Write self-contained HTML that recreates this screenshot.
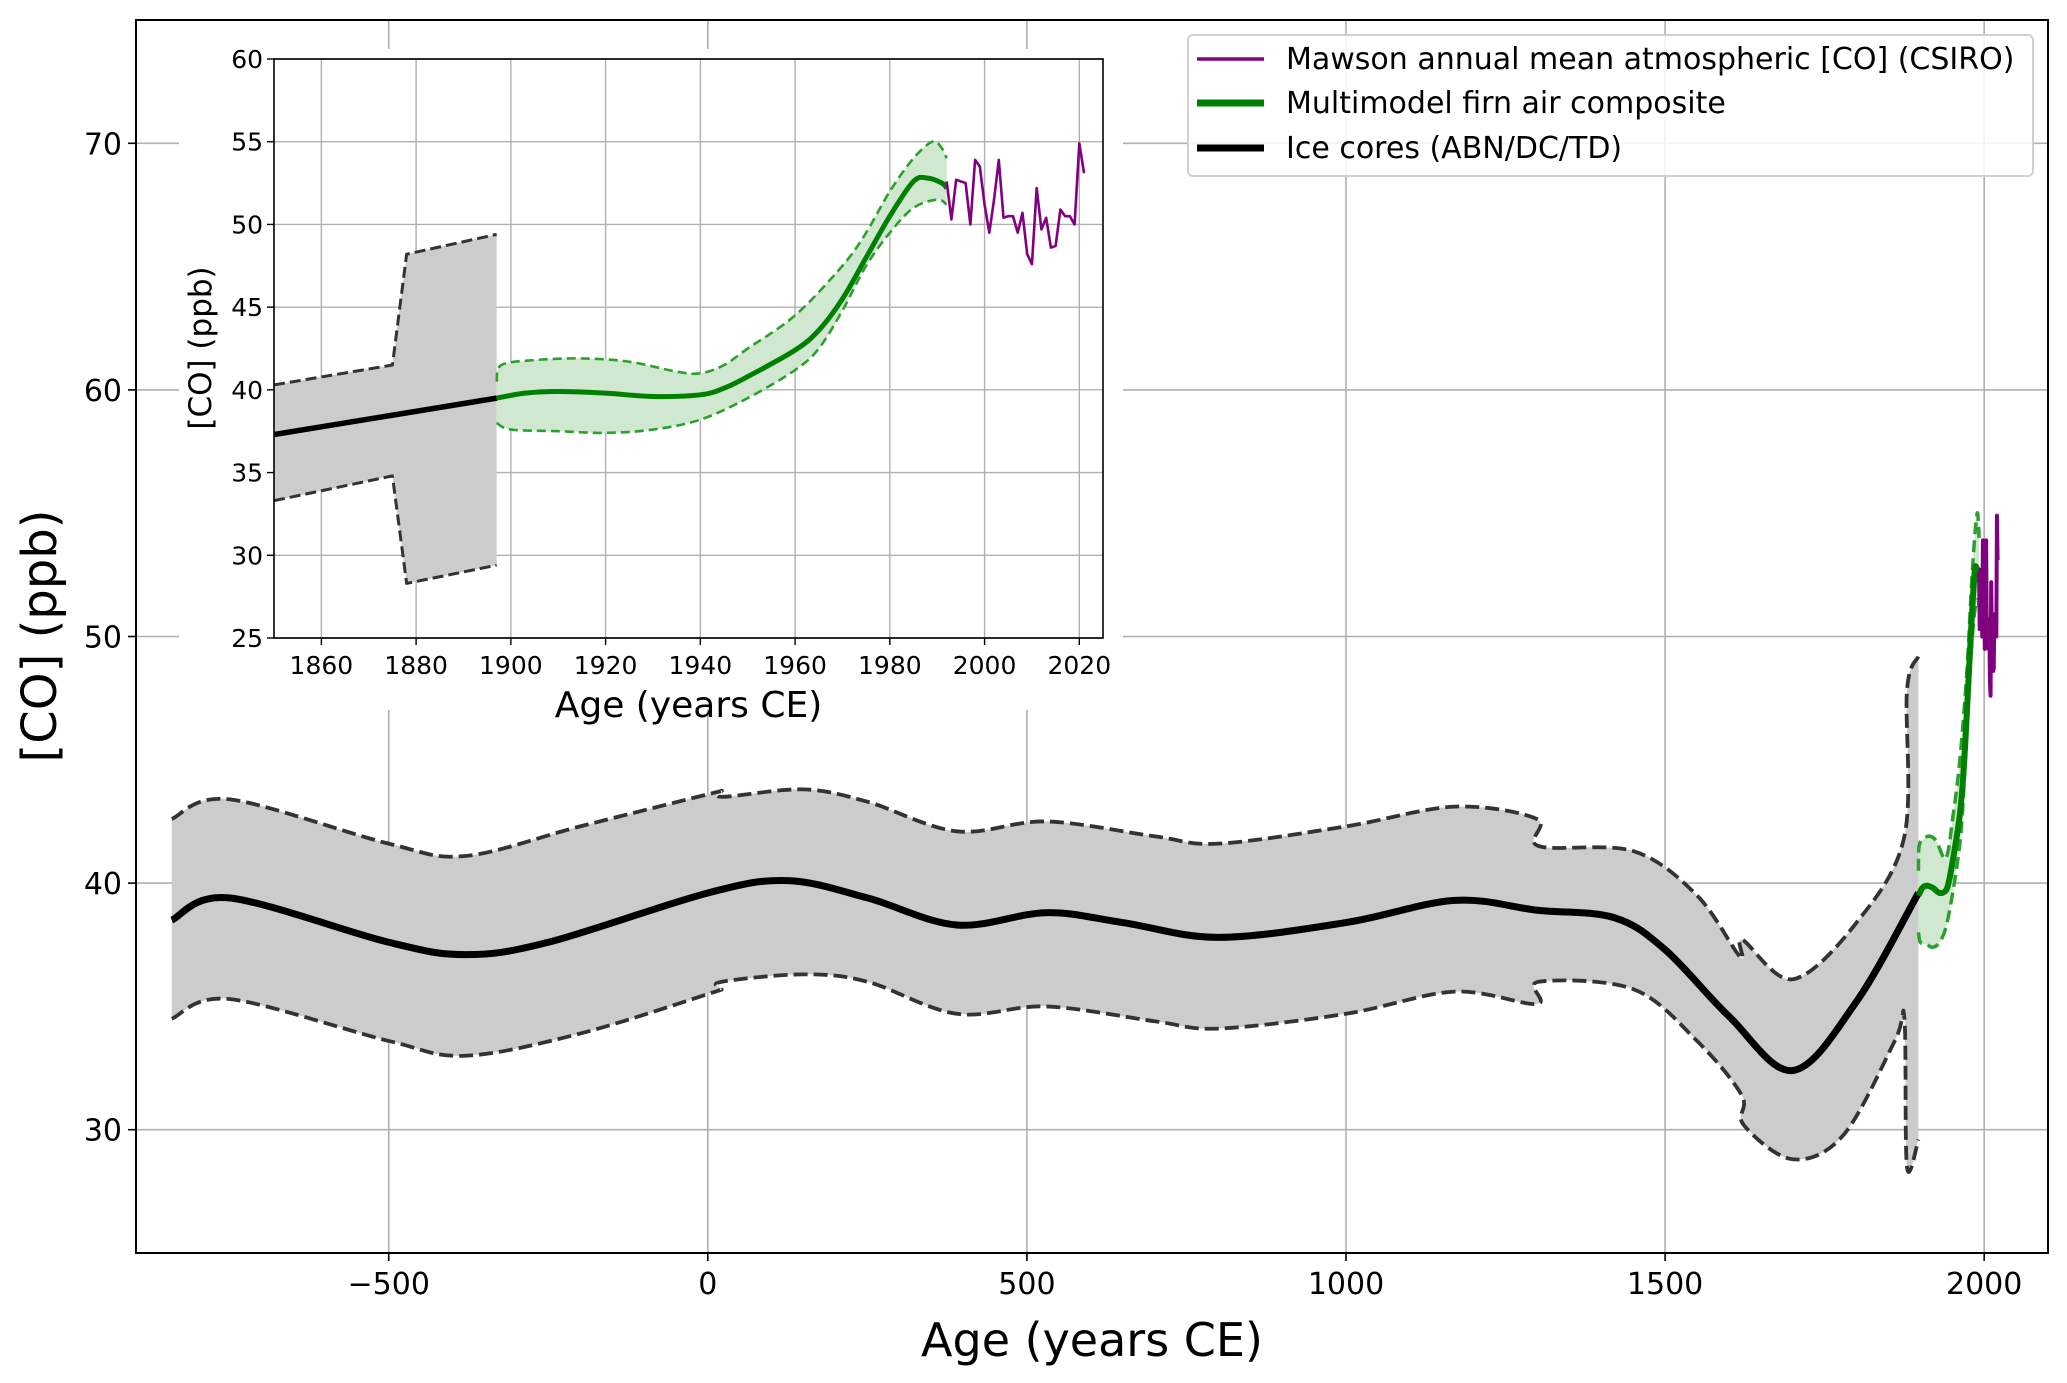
<!DOCTYPE html>
<html><head><meta charset="utf-8">
<style>
html,body{margin:0;padding:0;background:#fff;}
svg{display:block;font-family:"DejaVu Sans","Liberation Sans",sans-serif;}
</style></head>
<body>
<svg id="chart" width="2067" height="1383" viewBox="0 0 2067 1383" xmlns="http://www.w3.org/2000/svg">
<g id="main"></g>
<g id="inset"></g>
<g id="legend"></g>
</svg>
<script>
// ---- data ----
const iceX = [-840,-750,-500,-380,-250,0,125,250,390,530,650,800,1000,1170,1300,1420,1500,1600,1700,1800,1897];
const iceMean = [38.5,39.4,37.6,37.1,37.6,39.6,40.1,39.4,38.3,38.8,38.4,37.8,38.4,39.3,38.9,38.6,37.3,34.6,32.4,35.2,39.6];
const iceUpX = [-840,-750,-500,-380,-200,0,20,25,150,250,390,530,700,800,1000,1170,1299,1302,1450,1550,1618,1621,1700,1800,1875,1879,1897];
const iceUp = [42.6,43.4,41.6,41.1,42.3,43.6,43.7,43.5,43.8,43.3,42.1,42.5,41.9,41.6,42.3,43.1,42.6,41.5,41.3,39.5,37.0,37.7,36.1,38.4,41.9,47.8,49.2];
const iceLoX = [-840,-750,-500,-380,-200,0,19,22,150,250,390,530,700,800,1000,1170,1299,1302,1450,1550,1620,1623,1700,1780,1860,1875,1879,1897];
const iceLo = [34.5,35.3,33.6,33.0,33.9,35.5,35.7,36.0,36.3,36.0,34.7,35.0,34.4,34.1,34.7,35.6,35.1,36.0,35.7,33.6,31.4,30.2,28.8,29.8,33.6,34.5,28.5,29.6];
const insetIceX = [1850,1897];
const insetIceMean = [37.3,39.5];
const insetIceUpX = [1850,1875,1878,1897];
const insetIceUp = [40.3,41.5,48.2,49.4];
const insetIceLoX = [1850,1875,1878,1897];
const insetIceLo = [33.3,34.8,28.3,29.4];
const firnX = [1897,1903,1910,1920,1930,1940,1945,1950,1960,1965,1970,1975,1980,1985,1988,1991,1992];
const firnMean = [39.5,39.8,39.9,39.8,39.6,39.7,40.1,40.8,42.4,43.6,45.5,48.0,50.5,52.6,52.8,52.5,52.2];
const firnUpX = [1897,1898,1905,1915,1925,1935,1940,1945,1950,1960,1970,1975,1980,1985,1989,1991,1992];
const firnUp = [40.5,41.5,41.8,41.9,41.7,41.1,41.0,41.5,42.5,44.5,47.5,49.5,52.0,54.0,55.0,54.6,54.0];
const firnLoX = [1897,1900,1910,1920,1930,1940,1950,1960,1965,1970,1975,1980,1985,1990,1992];
const firnLo = [38.0,37.6,37.5,37.4,37.6,38.2,39.5,41.2,42.5,44.8,47.5,49.5,51.0,51.5,51.2];
const csiroYears = [1992,1993,1994,1995,1996,1997,1998,1999,2000,2001,2002,2003,2004,2005,2006,2007,2008,2009,2010,2011,2012,2013,2014,2015,2016,2017,2018,2019,2020,2021];
const csiroCO = [52.6,50.3,52.7,52.6,52.5,50.0,53.9,53.5,51.2,49.5,51.5,53.9,50.4,50.5,50.5,49.5,50.7,48.2,47.6,52.2,49.7,50.4,48.6,48.7,50.9,50.5,50.5,50.0,54.9,53.1];
const mainXTicks = [-500,0,500,1000,1500,2000];
const mainXTickLabels = ["\u2212500","0","500","1000","1500","2000"];
const mainYTicks = [30,40,50,60,70];
const insetXTicks = [1860,1880,1900,1920,1940,1960,1980,2000,2020];
const insetYTicks = [25,30,35,40,45,50,55,60];

// ---- helpers ----
const NS="http://www.w3.org/2000/svg";
function mk(parent,tag,attrs,text){const e=document.createElementNS(NS,tag);for(const k in attrs)e.setAttribute(k,attrs[k]);if(text!==undefined)e.textContent=text;parent.appendChild(e);return e;}
function lin(d0,d1,r0,r1){return v=>r0+(v-d0)*(r1-r0)/(d1-d0);}
function linearPath(p){return "M"+p.map(q=>q[0].toFixed(2)+","+q[1].toFixed(2)).join("L");}
function smooth(pts){
  if(pts.length<3) return linearPath(pts);
  let d="M"+pts[0][0].toFixed(2)+","+pts[0][1].toFixed(2);
  for(let i=0;i<pts.length-1;i++){
    const p0=pts[Math.max(0,i-1)],p1=pts[i],p2=pts[i+1],p3=pts[Math.min(pts.length-1,i+2)];
    const t=1/6;
    const c1=[p1[0]+(p2[0]-p0[0])*t,p1[1]+(p2[1]-p0[1])*t];
    const c2=[p2[0]-(p3[0]-p1[0])*t,p2[1]-(p3[1]-p1[1])*t];
    d+="C"+c1.map(v=>v.toFixed(2)).join(",")+" "+c2.map(v=>v.toFixed(2)).join(",")+" "+p2[0].toFixed(2)+","+p2[1].toFixed(2);
  }
  return d;
}
function pts(xs,ys,sx,sy){return xs.map((x,i)=>[sx(x),sy(ys[i])]);}
function band(g,name,upX,up,loX,lo,sx,sy,fill,isSmooth){
  const f=isSmooth?smooth:linearPath;
  const u=pts(upX,up,sx,sy), l=pts(loX,lo,sx,sy).reverse();
  const d=f(u)+"L"+f(l).slice(1)+"Z";
  const e=mk(g,"path",{d:d,fill:fill,stroke:"none"});
  
  
}
function line(g,name,xs,ys,sx,sy,attrs,isSmooth){
  const p=pts(xs,ys,sx,sy);
  const d=isSmooth?smooth(p):linearPath(p);
  const a=Object.assign({d:d,fill:"none","stroke-linejoin":"round"},attrs);
  const e=mk(g,"path",a);
  
  
}

// ---- main plot ----
const M={l:136,r:2048,t:20,b:1253};
const mx=lin(-896,2100,M.l,M.r), my=lin(25,75,M.b,M.t);
const gm=document.getElementById("main");
mk(gm,"defs",{}).innerHTML='<clipPath id="cm"><rect x="'+M.l+'" y="'+M.t+'" width="'+(M.r-M.l)+'" height="'+(M.b-M.t)+'"/></clipPath><clipPath id="ci"><rect x="274" y="59" width="829" height="579"/></clipPath>';
mainXTicks.forEach((v,i)=>{
  const x=mx(v);
  const gl=mk(gm,"line",{x1:x,x2:x,y1:M.t,y2:M.b,stroke:"#b0b0b0","stroke-width":1.6});
  
  
  mk(gm,"line",{x1:x,x2:x,y1:M.b,y2:M.b+8,stroke:"#000","stroke-width":1.6});
  const t=mk(gm,"text",{x:x,y:M.b+41,"font-size":30,"text-anchor":"middle",fill:"#000"},mainXTickLabels[i]);
  
  
});
mainYTicks.forEach(v=>{
  const y=my(v);
  const gl=mk(gm,"line",{x1:M.l,x2:M.r,y1:y,y2:y,stroke:"#b0b0b0","stroke-width":1.6});
  
  
  mk(gm,"line",{x1:M.l-8,x2:M.l,y1:y,y2:y,stroke:"#000","stroke-width":1.6});
  const t=mk(gm,"text",{x:M.l-14,y:y+11,"font-size":30,"text-anchor":"end",fill:"#000"},String(v));
  
  
});
const gmc=mk(gm,"g",{"clip-path":"url(#cm)"});
band(gmc,"ice-core-uncertainty-band",iceUpX,iceUp,iceLoX,iceLo,mx,my,"#cccccc",true);
line(gmc,"ice-core-upper-bound",iceUpX,iceUp,mx,my,{stroke:"#333","stroke-width":3.8,"stroke-dasharray":"14,6"},true);
line(gmc,"ice-core-lower-bound",iceLoX,iceLo,mx,my,{stroke:"#333","stroke-width":3.8,"stroke-dasharray":"14,6"},true);
band(gmc,"firn-uncertainty-band",firnUpX,firnUp,firnLoX,firnLo,mx,my,"#cfe8cf",true);
line(gmc,"firn-upper-bound",firnUpX,firnUp,mx,my,{stroke:"#2ca02c","stroke-width":3.5,"stroke-dasharray":"12,6"},true);
line(gmc,"firn-lower-bound",firnLoX,firnLo,mx,my,{stroke:"#2ca02c","stroke-width":3.5,"stroke-dasharray":"12,6"},true);
line(gmc,"ice-core-mean-line",iceX,iceMean,mx,my,{stroke:"#000","stroke-width":7},true);
line(gmc,"firn-composite-line",firnX,firnMean,mx,my,{stroke:"#008000","stroke-width":6},true);
line(gmc,"csiro-mawson-line",csiroYears,csiroCO,mx,my,{stroke:"#800080","stroke-width":4},false);
const mf=mk(gm,"rect",{x:M.l,y:M.t,width:M.r-M.l,height:M.b-M.t,fill:"none",stroke:"#000","stroke-width":2});

const xl=mk(gm,"text",{x:(M.l+M.r)/2,y:1356,"font-size":46,"text-anchor":"middle"},"Age (years CE)");

const yl=mk(gm,"text",{x:0,y:0,"font-size":48,"text-anchor":"middle",transform:"translate(56,636) rotate(-90)"},"[CO] (ppb)");


// ---- inset ----
const I={l:274,r:1103,t:59,b:638};
const ix=lin(1850,2025,I.l,I.r), iy=lin(25,60,I.b,I.t);
const gi=document.getElementById("inset");
mk(gi,"rect",{x:I.l-95,y:I.t-10,width:I.r-I.l+115,height:I.b-I.t+82,fill:"#fff"});
insetXTicks.forEach(v=>{
  const x=ix(v);
  mk(gi,"line",{x1:x,x2:x,y1:I.t,y2:I.b,stroke:"#b0b0b0","stroke-width":1.4});
  mk(gi,"line",{x1:x,x2:x,y1:I.b,y2:I.b+7,stroke:"#000","stroke-width":1.4});
  const t=mk(gi,"text",{x:x,y:I.b+36,"font-size":25,"text-anchor":"middle"},String(v));
  
});
insetYTicks.forEach(v=>{
  const y=iy(v);
  mk(gi,"line",{x1:I.l,x2:I.r,y1:y,y2:y,stroke:"#b0b0b0","stroke-width":1.4});
  mk(gi,"line",{x1:I.l-7,x2:I.l,y1:y,y2:y,stroke:"#000","stroke-width":1.4});
  const t=mk(gi,"text",{x:I.l-11,y:y+9,"font-size":25,"text-anchor":"end"},String(v));
  
});
const gic=mk(gi,"g",{"clip-path":"url(#ci)"});
band(gic,"inset-ice-band",insetIceUpX,insetIceUp,insetIceLoX,insetIceLo,ix,iy,"#cccccc",false);
line(gic,"inset-ice-upper",insetIceUpX,insetIceUp,ix,iy,{stroke:"#333","stroke-width":3,"stroke-dasharray":"11,5"},false);
line(gic,"inset-ice-lower",insetIceLoX,insetIceLo,ix,iy,{stroke:"#333","stroke-width":3,"stroke-dasharray":"11,5"},false);
band(gic,"inset-firn-band",firnUpX,firnUp,firnLoX,firnLo,ix,iy,"#cfe8cf",true);
line(gic,"inset-firn-upper",firnUpX,firnUp,ix,iy,{stroke:"#2ca02c","stroke-width":2.6,"stroke-dasharray":"9,5"},true);
line(gic,"inset-firn-lower",firnLoX,firnLo,ix,iy,{stroke:"#2ca02c","stroke-width":2.6,"stroke-dasharray":"9,5"},true);
line(gic,"inset-ice-mean",insetIceX,insetIceMean,ix,iy,{stroke:"#000","stroke-width":5.5},false);
line(gic,"inset-firn-mean",firnX,firnMean,ix,iy,{stroke:"#008000","stroke-width":5},true);
line(gic,"inset-csiro-line",csiroYears,csiroCO,ix,iy,{stroke:"#800080","stroke-width":2.6},false);
const ifr=mk(gi,"rect",{x:I.l,y:I.t,width:I.r-I.l,height:I.b-I.t,fill:"none",stroke:"#000","stroke-width":1.6});

const ixl=mk(gi,"text",{x:(I.l+I.r)/2,y:717,"font-size":36,"text-anchor":"middle"},"Age (years CE)");

const iyl=mk(gi,"text",{x:0,y:0,"font-size":31,"text-anchor":"middle",transform:"translate(211,348) rotate(-90)"},"[CO] (ppb)");


// ---- legend ----
const gl=document.getElementById("legend");
mk(gl,"rect",{x:1188,y:35,width:845,height:141,rx:5,fill:"#fff","fill-opacity":0.85,stroke:"#d0d0d0","stroke-width":2});
const legItems=[["Mawson annual mean atmospheric [CO] (CSIRO)","#800080",3.5,59],["Multimodel firn air composite","#008000",7,103],["Ice cores (ABN/DC/TD)","#000",7,148]];
legItems.forEach(it=>{
  const e=mk(gl,"g",{});
  
  
  mk(e,"line",{x1:1197,x2:1264,y1:it[3],y2:it[3],stroke:it[1],"stroke-width":it[2]});
  mk(e,"text",{x:1286,y:it[3]+10,"font-size":30},it[0]);
});
</script>
</body></html>
